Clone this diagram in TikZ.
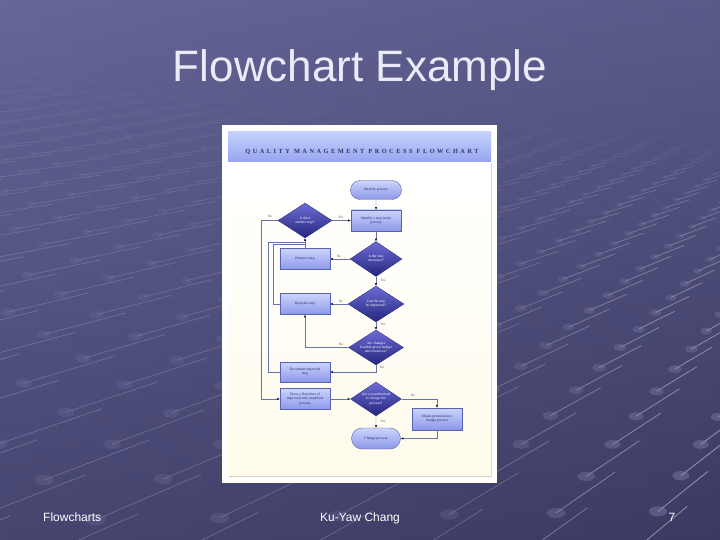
\documentclass[tikz,border=0pt]{standalone}
\usepackage{fontspec}
\setmainfont{Liberation Sans}
\newfontfamily\fcfont{Liberation Serif}
\newfontfamily\hdrfont[LetterSpace=40]{Liberation Serif Bold}
\usetikzlibrary{shapes.geometric,shapes.misc,arrows.meta}
\definecolor{bgtop}{RGB}{102,102,152}
\definecolor{bgbot}{RGB}{58,58,98}
\definecolor{titlec}{RGB}{234,234,248}
\definecolor{linec}{RGB}{105,115,165}
\definecolor{arrc}{RGB}{25,25,75}
\definecolor{rtop}{RGB}{204,212,252}
\definecolor{rbot}{RGB}{140,152,232}
\definecolor{rdraw}{RGB}{88,98,178}
\definecolor{dtop}{RGB}{108,108,214}
\definecolor{dbot}{RGB}{38,38,125}
\definecolor{txtc}{RGB}{40,40,110}
\definecolor{hdra}{RGB}{196,210,253}
\definecolor{hdrb}{RGB}{150,164,240}
\definecolor{hdrtxt}{RGB}{50,50,105}
\definecolor{cream}{RGB}{255,252,236}
\definecolor{lblc}{RGB}{85,85,115}
\definecolor{dotc}{RGB}{135,135,178}
\newcommand\fcsmall{\fcfont\fontsize{3.7}{4.2}\selectfont}
\newcommand\grdproj[2]{%
  \pgfmathsetmacro\grdQ{(0.561*#1-0.828*#2)/(0.828*#1+0.561*#2)}%
  \pgfmathsetmacro\grdPX{888*\grdQ}%
  \pgfmathsetmacro\grdPY{6660/(0.828*#1+0.561*#2)}%
  \pgfmathsetmacro\grdSX{403+0.9931*\grdPX-0.1175*\grdPY}%
  \pgfmathsetmacro\grdSY{-96+0.1175*\grdPX+0.9931*\grdPY}%
}
\begin{document}
\begin{tikzpicture}[x=1pt,y=-1pt,
  rectbox/.style={rectangle, draw=rdraw, line width=0.4pt, top color=rtop, bottom color=rbot,
    minimum width=50pt, minimum height=21pt, inner sep=0.5pt, align=center, font=\fcsmall, text=txtc},
  decbox/.style={diamond, draw=dbot, line width=0.3pt, top color=dtop, bottom color=dbot,
    minimum width=54pt, minimum height=35pt, inner sep=0pt, aspect=1.5, align=center, font=\fcsmall, text=white},
  termbox/.style={rounded rectangle, draw=rdraw, line width=0.4pt, top color=rtop, bottom color=rbot,
    minimum width=51pt, minimum height=20pt, inner sep=0.5pt, align=center, font=\fcsmall, text=txtc},
  flow/.style={draw=linec, line width=0.45pt},
  arr/.style={flow, -{Latex[length=2.6pt,width=2.4pt,color=arrc]}},
  lbl/.style={font=\fcfont\fontsize{3.5}{4}\selectfont, text=lblc, inner sep=0.3pt},
  foot/.style={font=\fontsize{12}{14}\selectfont, text=white, inner sep=0pt}]
\useasboundingbox (0,0) rectangle (720,540);
% background
\shade[top color=bgtop, bottom color=bgbot] (0,0) rectangle (720,540);
\shade[left color=bgtop, right color=bgbot, opacity=0.25] (0,0) rectangle (720,540);
% perspective grid
\begin{scope}
\clip (0,0) rectangle (720,540);
\foreach \u in {-8,...,42}{
  \foreach \v in {-10,...,40}{
    \pgfmathsetmacro\grdZ{0.828*\u+0.561*\v}
    \ifdim\grdZ pt>8.5pt\relax\ifdim\grdZ pt<34pt\relax
      \grdproj{\u}{\v}
      \let\grdAX\grdSX \let\grdAY\grdSY
      \ifdim\grdAX pt>-140pt\relax\ifdim\grdAX pt<860pt\relax\ifdim\grdAY pt>50pt\relax\ifdim\grdAY pt<640pt\relax
        \pgfmathsetmacro\grdO{(34-\grdZ)/24}
        \pgfmathsetmacro\grdW{max(0,min(1,(\grdAX-440)/240))}
        \pgfmathsetmacro\grdR{105/\grdZ}
        \pgfmathsetmacro\grdRy{0.55*\grdR}
        \pgfmathsetmacro\grdL{\grdO*(0.09+0.36*\grdW)}
        \pgfmathsetmacro\grdD{\grdO*(0.2+0.25*\grdW)}
        \grdproj{\u+1}{\v}
        \draw[white, opacity=\grdL, line width=0.8pt] (\grdAX,\grdAY) -- (\grdSX,\grdSY);
        \grdproj{\u}{\v+1}
        \draw[white, opacity=0.13*\grdO, line width=0.7pt] (\grdAX,\grdAY) -- (\grdSX,\grdSY);
        \fill[dotc, opacity=\grdD] (\grdAX,\grdAY) ellipse [x radius=\grdR pt, y radius=\grdRy pt];
      \fi\fi\fi\fi
    \fi\fi
  }
}
\end{scope}
% title and footer
\node[font=\fontsize{44}{50}\selectfont, text=titlec, anchor=base, inner sep=0pt] (title) at (360,82) {Flowchart Example};
\node[foot, anchor=base west] (f1) at (43,521) {Flowcharts};
\node[foot, anchor=base] (f2) at (360,521) {Ku-Yaw Chang};
\node[foot, anchor=base] (f3) at (672,521) {7};
% paper
\fill[white] (222,125) rectangle (497,483);
\fill[black!18] (229,163) rectangle (492,477);
\shade[top color=white, bottom color=cream] (228,162) rectangle (491,475);
\shade[top color=hdra, bottom color=hdrb] (228,132) rectangle (491,162);
\node[font=\hdrfont\fontsize{6.3}{7}\selectfont, text=hdrtxt, inner sep=0pt] (hdr) at (362,152) {QUALITY MANAGEMENT PROCESS FLOWCHART};
% flowchart nodes
\node[termbox, minimum width=52pt, minimum height=19pt] (ip) at (376,190) {Identify process};
\node[rectbox] (is) at (376,220.5) {Identify a step in the\\process};
\node[decbox] (d1) at (305,220.5) {Is there\\another step?};
\node[decbox, minimum width=52pt] (d2) at (376,259) {Is the step\\necessary?};
\node[rectbox] (rem) at (305,259) {Remove step};
\node[decbox, minimum width=56pt, minimum height=36pt] (d3) at (376,304) {Can the step\\be improved?};
\node[rectbox] (keep) at (305,304) {Keep the step};
\node[decbox, minimum width=55pt] (d4) at (376,347.5) {Are changes\\feasible given budget\\and resources?};
\node[rectbox, minimum height=20pt] (doc) at (305,372) {Document improved\\step};
\node[rectbox] (drw) at (305,399) {Draw a flowchart of\\improved and simplified\\process};
\node[decbox, minimum width=51pt, minimum height=34pt] (d5) at (376,399) {Are you authorized\\to change the\\process?};
\node[rectbox, minimum height=22pt] (obt) at (437,419) {Obtain permission to\\change process};
\node[termbox, minimum width=50pt, minimum height=21pt] (chg) at (376,438.5) {Change process};
% helper coordinates
\coordinate (nx) at (261,0);
\coordinate (dx) at (268,0);
\coordinate (kx) at (273,0);
\coordinate (jd) at (305,242);
\coordinate (jk) at (305,244.5);
% connectors
\draw[arr] (ip) -- (is);
\draw[arr] (d1) -- (is);
\draw[arr] (d1.west) -- (d1.west -| nx) |- (drw.west);
\draw[arr] (is) -- (d2);
\draw[arr] (d2) -- (rem);
\draw[arr] (d2) -- (d3);
\draw[arr] (rem) -- (d1);
\draw[flow] (keep.west) -- (keep.west -| kx) |- (jk);
\draw[flow] (doc.west) -- (doc.west -| dx) |- (jd);
\draw[arr] (d3) -- (keep);
\draw[arr] (d3) -- (d4);
\draw[arr] (d4.west) -| (keep.south);
\draw[arr] (d4.south) |- (doc.east);
\draw[arr] (drw) -- (d5);
\draw[arr] (d5.east) -| (obt.north);
\draw[arr] (d5) -- (chg);
\draw[arr] (obt.south) |- (chg.east);
% connector labels
\node[lbl] (l1) at (270,216.5) {No};
\node[lbl] (l2) at (341,217) {Yes};
\node[lbl] (l3) at (339,256) {No};
\node[lbl] (l4) at (383,280) {Yes};
\node[lbl] (l5) at (341,301) {No};
\node[lbl] (l6) at (383,324) {Yes};
\node[lbl] (l7) at (341,344.5) {No};
\node[lbl] (l8) at (382,367.5) {Yes};
\node[lbl] (l9) at (413,395) {No};
\node[lbl] (l10) at (383,421) {Yes};
\end{tikzpicture}
\end{document}
